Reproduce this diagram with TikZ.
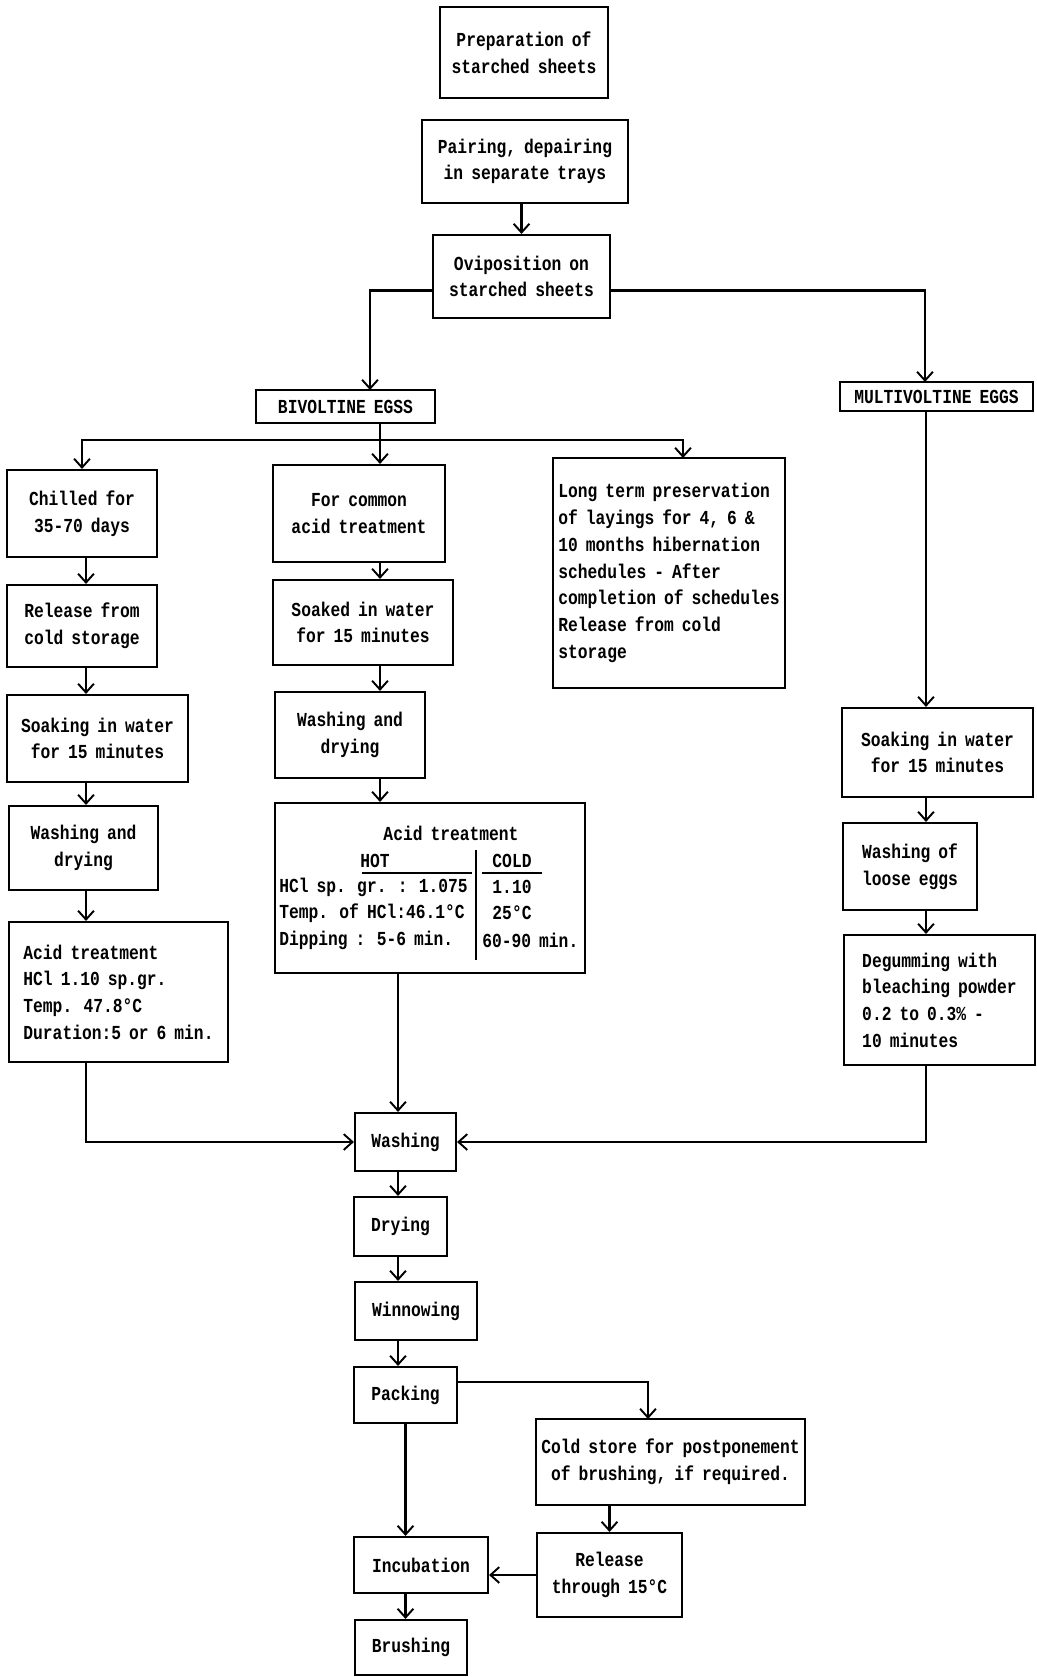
\documentclass[tikz,border=0pt]{standalone}
\usepackage{fontspec}
\newfontfamily\dotfont[FakeStretch=0.82,WordSpace=0.82]{Liberation Mono}
\usetikzlibrary{arrows.meta}
\def\u{0.02cm}
\begin{document}
\begin{tikzpicture}[x=0.02cm,y=-0.02cm,
  box/.style={draw, line width=1.2pt, inner sep=0pt, align=center,
    font=\dotfont\bfseries\fontsize{11.3}{15.2}\selectfont},
  txt/.style={inner sep=0pt, font=\dotfont\bfseries\fontsize{11.3}{15.2}\selectfont},
  link/.style={line width=1.2pt, -{Straight Barb[length=5pt,width=9pt,line width=1.1pt]}},
  plain/.style={line width=1.2pt}]
\useasboundingbox (0,0) rectangle (1037,1677);
\fill[white] (0,0) rectangle (1037,1677);

% top
\node[box, minimum width=168*\u, minimum height=91*\u] (prep) at (524,52.5) {Preparation of\\starched sheets};
\node[box, minimum width=206*\u, minimum height=83*\u] (pair) at (525,161.5) {Pairing, depairing\\in separate trays};
\node[box, minimum width=177*\u, minimum height=83*\u] (ovi) at (521.5,276.5) {Oviposition on\\starched sheets};
\node[box, minimum width=179*\u, minimum height=33*\u] (biv) at (345.5,406.5) {BIVOLTINE EGSS};
\node[box, minimum width=193*\u, minimum height=29*\u] (multi) at (936.5,396.5) {MULTIVOLTINE EGGS};

% left column
\node[box, minimum width=150*\u, minimum height=87*\u] (chill) at (82,513.5) {Chilled for\\35-70 days};
\node[box, minimum width=150*\u, minimum height=82*\u] (relL) at (82,626) {Release from\\cold storage};
\node[box, minimum width=181*\u, minimum height=87*\u] (soakL) at (97.5,738.5) {Soaking in water\\for 15 minutes};
\node[box, minimum width=149*\u, minimum height=84*\u] (wdL) at (83.5,848) {Washing and\\drying};
\node[box, align=left, minimum width=219*\u, minimum height=140*\u] (acidL) at (118.5,992) {Acid treatment\\HCl 1.10 sp.gr.\\Temp. 47.8°C\\Duration:5 or 6 min.};

% middle column
\node[box, minimum width=172*\u, minimum height=97*\u] (common) at (359,513.5) {For common\\acid treatment};
\node[box, minimum width=180*\u, minimum height=85*\u] (soakM) at (363,622.5) {Soaked in water\\for 15 minutes};
\node[box, minimum width=150*\u, minimum height=86*\u] (wdM) at (350,735) {Washing and\\drying};
\node[box, minimum width=310*\u, minimum height=170*\u] (acidM) at (430,888) {};
\node[txt] (acidT) at (451,833) {Acid treatment};
\node[txt] (hot) at (375,861) {HOT};
\node[txt] (cold) at (512,861) {COLD};
\node[txt, anchor=west] (r1) at (279,887) {HCl sp. gr. : 1.075};
\node[txt, anchor=west] (r2) at (279,913) {Temp. of HCl:46.1°C};
\node[txt, anchor=west] (r3) at (279,940) {Dipping : 5-6 min.};
\node[txt] (c1) at (512,887) {1.10};
\node[txt] (c2) at (512,913) {25°C};
\node[txt, anchor=west] (c3) at (482,940) {60-90 min.};
\coordinate (hotl) at (362,873);
\coordinate (hotr) at (472,873);
\coordinate (coldl) at (482,873);
\coordinate (coldr) at (542,873);
\coordinate (divt) at (476,850);
\coordinate (divb) at (476,960);
\draw[line width=1pt] (hotl) -- (hotr);
\draw[line width=1pt] (coldl) -- (coldr);
\draw[line width=1.6pt] (divt) -- (divb);

% long term
\node[box, align=left, minimum width=232*\u, minimum height=230*\u] (long) at (669,573) {Long term preservation\\of layings for 4, 6 \&\\10 months hibernation\\schedules - After\\completion of schedules\\Release from cold\\storage};

% right column
\node[box, minimum width=191*\u, minimum height=89*\u] (soakR) at (937.5,752.5) {Soaking in water\\for 15 minutes};
\node[box, minimum width=134*\u, minimum height=87*\u] (wloose) at (910,866.5) {Washing of\\loose eggs};
\node[box, align=left, minimum width=191*\u, minimum height=130*\u] (degum) at (939.5,1000) {Degumming with\\bleaching powder\\0.2 to 0.3\% -\\10 minutes};

% bottom column
\node[box, minimum width=101*\u, minimum height=58*\u] (wash) at (405.5,1142) {Washing};
\node[box, minimum width=93*\u, minimum height=59*\u] (dry) at (400.5,1226.5) {Drying};
\node[box, minimum width=122*\u, minimum height=58*\u] (winnow) at (416,1311) {Winnowing};
\node[box, minimum width=103*\u, minimum height=56*\u] (pack) at (405.5,1395) {Packing};
\node[box, minimum width=269*\u, minimum height=86*\u] (coldst) at (670.5,1462) {Cold store for postponement\\of brushing, if required.};
\node[box, minimum width=145*\u, minimum height=84*\u] (relT) at (609.5,1575) {Release\\through 15°C};
\node[box, minimum width=134*\u, minimum height=56*\u] (incub) at (421,1565) {Incubation};
\node[box, minimum width=112*\u, minimum height=55*\u] (brush) at (411,1647.5) {Brushing};

% helper coordinates
\coordinate (bivin) at (370,390);
\coordinate (multiin) at (925,382);
\coordinate (bivout) at (380,423);
\coordinate (br) at (380,440);
\coordinate (longin) at (683,458);
\coordinate (lcol) at (86,0);
\coordinate (mcol) at (380,0);
\coordinate (wcol) at (398,0);
\coordinate (rcol) at (926,0);
\coordinate (packout) at (457,1382);
\coordinate (coldin) at (648,1419);

% connectors top
\draw[link] (pair.south -| ovi.north) -- (ovi.north);
\draw[link] ([yshift=-14*\u]ovi.west) -| (bivin);
\draw[link] ([yshift=-14*\u]ovi.east) -| (multiin);
\draw[link] (bivout) -- (bivout |- common.north);
\draw[link] (br) -| (chill.north);
\draw[link] (br) -| (longin);

% left column connectors
\draw[link] (chill.south -| lcol) -- (relL.north -| lcol);
\draw[link] (relL.south -| lcol) -- (soakL.north -| lcol);
\draw[link] (soakL.south -| lcol) -- (wdL.north -| lcol);
\draw[link] (wdL.south -| lcol) -- (acidL.north -| lcol);
\draw[link] (acidL.south -| lcol) |- (wash.west);

% middle column connectors
\draw[link] (common.south -| mcol) -- (soakM.north -| mcol);
\draw[link] (soakM.south -| mcol) -- (wdM.north -| mcol);
\draw[link] (wdM.south -| mcol) -- (acidM.north -| mcol);
\draw[link] (acidM.south -| wcol) -- (wash.north -| wcol);

% right column connectors
\draw[link] (multi.south -| rcol) -- (soakR.north -| rcol);
\draw[link] (soakR.south -| rcol) -- (wloose.north -| rcol);
\draw[link] (wloose.south -| rcol) -- (degum.north -| rcol);
\draw[link] (degum.south -| rcol) |- (wash.east);

% bottom connectors
\draw[link] (wash.south -| wcol) -- (dry.north -| wcol);
\draw[link] (dry.south -| wcol) -- (winnow.north -| wcol);
\draw[link] (winnow.south -| wcol) -- (pack.north -| wcol);
\draw[link] (packout) -| (coldin);
\draw[link] (coldst.south -| relT.north) -- (relT.north);
\draw[link] (pack.south) -- (pack.south |- incub.north);
\draw[link] (relT.west) -- (relT.west -| incub.east);
\draw[link] (incub.south -| pack.south) -- (brush.north -| pack.south);
\end{tikzpicture}
\end{document}
